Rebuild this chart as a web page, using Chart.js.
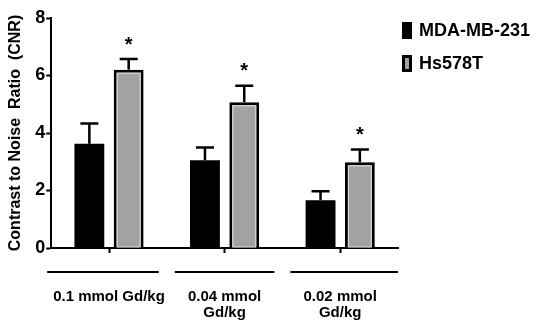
<!DOCTYPE html>
<html>
<head>
  <title>CNR</title>
  <script src="https://cdn.jsdelivr.net/npm/chart.js"></script>
  <style>
    body {
      margin: 0;
      background-color: #fff;
    }
  </style>
</head>
<body>
  <canvas id="cnrChart" width="536" height="322"></canvas>

  <script>
    const groups = [['0.1 mmol Gd/kg'], ['0.04 mmol', 'Gd/kg'], ['0.02 mmol', 'Gd/kg']];
    const seriesNames = ['MDA-MB-231', 'Hs578T'];
    const mdaValues = [3.63, 3.05, 1.66];
    const mdaErrors = [0.70, 0.45, 0.31];
    const hsValues = [6.2, 5.07, 2.98];
    const hsErrors = [0.37, 0.57, 0.45];
    const hsSignificant = [true, true, true];
    const yTicks = [0, 2, 4, 6, 8];

    const FONT = "'Liberation Sans', Arial, sans-serif";

    // error bars, asterisks, inner light outline of grey bars, group underlines, legend
    const extras = {
      id: 'extras',
      afterDatasetsDraw(chart) {
        const ctx = chart.ctx;
        const y = chart.scales.y;
        const x = chart.scales.x;
        const errs = [mdaErrors, hsErrors];

        chart.data.datasets.forEach((ds, di) => {
          const meta = chart.getDatasetMeta(di);
          meta.data.forEach((bar, i) => {
            const top = y.getPixelForValue(ds.data[i]);
            const errTop = y.getPixelForValue(ds.data[i] + errs[di][i]);
            ctx.save();
            ctx.strokeStyle = '#000';
            ctx.lineWidth = 2.5;
            ctx.beginPath();
            ctx.moveTo(bar.x, top);
            ctx.lineTo(bar.x, errTop);
            ctx.moveTo(bar.x - 9, errTop);
            ctx.lineTo(bar.x + 9, errTop);
            ctx.stroke();

            if (di === 1) {
              // light inner line of the grey bars
              ctx.strokeStyle = '#dcdcdc';
              ctx.lineWidth = 1;
              const w = bar.width;
              ctx.strokeRect(bar.x - w / 2 + 3.5, bar.y + 3.5, w - 7, bar.base - bar.y - 4);
              if (hsSignificant[i]) {
                ctx.fillStyle = '#000';
                ctx.font = 'bold 20px ' + FONT;
                ctx.textAlign = 'center';
                ctx.textBaseline = 'middle';
                ctx.fillText('*', bar.x, errTop - 14);
              }
            }
            ctx.restore();
          });
        });

        // underline under each group
        const step = (x.right - x.left) / groups.length;
        ctx.save();
        ctx.strokeStyle = '#000';
        ctx.lineWidth = 2;
        groups.forEach((g, i) => {
          const cx = x.getPixelForValue(i);
          ctx.beginPath();
          ctx.moveTo(cx - step / 2 + 8 - (i === 0 ? 12 : 0), y.bottom + 24);
          ctx.lineTo(cx + step / 2 - 8 + (i === 2 ? 8 : 0), y.bottom + 24);
          ctx.stroke();
        });
        ctx.restore();

        // legend
        ctx.save();
        ctx.font = 'bold 18px ' + FONT;
        ctx.textBaseline = 'middle';
        ctx.textAlign = 'left';
        const lx = 402;
        const rows = [30, 63];
        chart.data.datasets.forEach((ds, di) => {
          const ly = rows[di];
          ctx.fillStyle = '#000';
          ctx.fillRect(lx, ly - 8, 10, 17);
          if (di === 1) {
            ctx.fillStyle = ds.backgroundColor;
            ctx.fillRect(lx + 3, ly - 5, 4, 11);
          }
          ctx.fillStyle = '#000';
          ctx.fillText(ds.label, lx + 17, ly + 1);
        });
        ctx.restore();
      }
    };

    const ctx = document.getElementById('cnrChart').getContext('2d');

    new Chart(ctx, {
      type: 'bar',
      data: {
        labels: groups,
        datasets: [{
          label: seriesNames[0],
          data: mdaValues,
          backgroundColor: '#000',
          borderColor: '#000',
          borderWidth: 0,
          barPercentage: 0.76,
          categoryPercentage: 0.68
        }, {
          label: seriesNames[1],
          data: hsValues,
          backgroundColor: '#a2a2a4',
          borderColor: '#000',
          borderWidth: 3,
          borderSkipped: 'bottom',
          barPercentage: 0.76,
          categoryPercentage: 0.68
        }]
      },
      options: {
        responsive: false,
        animation: false,
        devicePixelRatio: 1,
        layout: {
          padding: { top: 18, right: 138, bottom: 0, left: 6 }
        },
        plugins: {
          legend: { display: false },
          tooltip: { enabled: false }
        },
        scales: {
          x: {
            afterFit(axis) {
              axis.height = 74;
            },
            grid: {
              display: true,
              drawOnChartArea: false,
              offset: false,
              tickLength: 5,
              tickWidth: 2,
              color: '#000'
            },
            border: { color: '#000', width: 2 },
            ticks: {
              color: '#000',
              padding: 36,
              maxRotation: 0,
              font: { family: FONT, weight: 'bold', size: 15, lineHeight: 1.05 }
            }
          },
          y: {
            min: 0,
            max: 8,
            afterBuildTicks(axis) {
              axis.ticks = yTicks.map(v => ({ value: v }));
            },
            grid: {
              display: true,
              drawOnChartArea: false,
              tickLength: 5,
              tickWidth: 2,
              color: '#000'
            },
            border: { color: '#000', width: 2 },
            ticks: {
              color: '#000',
              padding: 1,
              font: { family: FONT, weight: 'bold', size: 18 }
            },
            title: {
              display: true,
              text: 'Contrast to Noise  Ratio  (CNR)',
              color: '#000',
              padding: { top: 0, bottom: 9 },
              font: { family: FONT, weight: 'bold', size: 16 }
            }
          }
        }
      },
      plugins: [extras]
    });
  </script>
</body>
</html>
